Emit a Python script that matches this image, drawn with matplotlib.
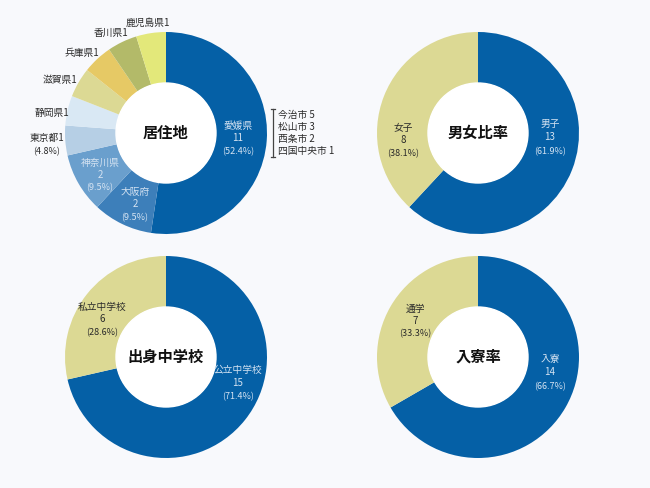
import matplotlib
matplotlib.use("Agg")
import matplotlib.pyplot as plt

plt.rcParams["font.family"] = ["Noto Sans CJK JP", "DejaVu Sans"]

BG = "#f8f9fc"
BLUE = "#0560a6"
BEIGE = "#dcd994"
LIGHT_TXT = "#d5e3f2"
DARK_TXT = "#2a2a2a"

# 居住地
res_names = ["愛媛県", "大阪府", "神奈川県", "東京都", "静岡県", "滋賀県", "兵庫県", "香川県", "鹿児島県"]
res_vals = [11, 2, 2, 1, 1, 1, 1, 1, 1]
res_colors = [BLUE, "#3d7fba", "#6a9fcd", "#b6cfe5", "#d9e8f4", "#dcd994", "#e6c965", "#b3ba69", "#e3e87a"]
ehime_cities = ["今治市 5", "松山市 3", "西条市 2", "四国中央市 1"]

# 男女比率
sex_names = ["男子", "女子"]
sex_vals = [13, 8]

# 出身中学校
school_names = ["公立中学校", "私立中学校"]
school_vals = [15, 6]

# 入寮率
dorm_names = ["入寮", "通学"]
dorm_vals = [14, 7]

W, H = 650, 488
fig = plt.figure(figsize=(W / 100, H / 100), dpi=100)
fig.patch.set_facecolor(BG)
ax = fig.add_axes([0, 0, 1, 1])
ax.set_xlim(0, W)
ax.set_ylim(0, H)
ax.set_aspect("equal")
ax.axis("off")


def Y(py):
    return H - py


def donut(cx, cy, vals, colors, title):
    ax.pie(vals, colors=colors, center=(cx, Y(cy)), radius=101, startangle=90,
           counterclock=False, wedgeprops=dict(width=51, linewidth=0))
    ax.add_patch(plt.Circle((cx, Y(cy)), 50, color="white", zorder=3))
    ax.text(cx, Y(cy), title, ha="center", va="center", fontsize=11,
            fontweight="bold", color="#111111", zorder=4)
    ax.set_xlim(0, W)
    ax.set_ylim(0, H)
    ax.set_aspect("equal")


def label3(x, y, name, val, total, color, dy=12):
    pct = val / total * 100
    ax.text(x, Y(y), name, ha="center", va="center", fontsize=7, color=color, zorder=5)
    ax.text(x, Y(y + dy), str(val), ha="center", va="center", fontsize=7, color=color, zorder=5)
    ax.text(x, Y(y + 2 * dy + 2), f"({pct:.1f}%)", ha="center", va="center", fontsize=6.5,
            color=color, zorder=5)


# chart 1
donut(166, 133, res_vals, res_colors, "居住地")
tot = sum(res_vals)
label3(238, 126, res_names[0], res_vals[0], tot, LIGHT_TXT, dy=12)
label3(135, 192, res_names[1], res_vals[1], tot, LIGHT_TXT, dy=12)
label3(100, 163, res_names[2], res_vals[2], tot, LIGHT_TXT, dy=11.5)
ax.text(47, Y(138), f"{res_names[3]}{res_vals[3]}", ha="center", va="center", fontsize=7, color=DARK_TXT)
ax.text(47, Y(152), f"({res_vals[3] / tot * 100:.1f}%)", ha="center", va="center", fontsize=6.5, color=DARK_TXT)
outer = [(52, 113), (60, 80), (82, 53), (111, 33), (148, 23)]
for (x, y), n, v in zip(outer, res_names[4:], res_vals[4:]):
    ax.text(x, Y(y), f"{n}{v}", ha="center", va="center", fontsize=7, color=DARK_TXT)

# bracket and Ehime city list
ax.plot([273, 273], [Y(109), Y(157)], color="#444444", lw=0.9)
ax.plot([271, 275], [Y(109), Y(109)], color="#444444", lw=0.9)
ax.plot([271, 275], [Y(157), Y(157)], color="#444444", lw=0.9)
for i, c in enumerate(ehime_cities):
    ax.text(278, Y(115 + i * 12), c, ha="left", va="center", fontsize=7, color=DARK_TXT)

# chart 2
donut(478, 133, sex_vals, [BLUE, BEIGE], "男女比率")
label3(550, 124, sex_names[0], sex_vals[0], sum(sex_vals), LIGHT_TXT, dy=13)
label3(403, 128, sex_names[1], sex_vals[1], sum(sex_vals), DARK_TXT, dy=12)

# chart 3
donut(166, 357, school_vals, [BLUE, BEIGE], "出身中学校")
label3(238, 370, school_names[0], school_vals[0], sum(school_vals), LIGHT_TXT, dy=12.5)
label3(102, 307, school_names[1], school_vals[1], sum(school_vals), DARK_TXT, dy=12)

# chart 4
donut(478, 357, dorm_vals, [BLUE, BEIGE], "入寮率")
label3(550, 359, dorm_names[0], dorm_vals[0], sum(dorm_vals), LIGHT_TXT, dy=13)
label3(415, 309, dorm_names[1], dorm_vals[1], sum(dorm_vals), DARK_TXT, dy=11.5)

fig.savefig("out.png", dpi=100, facecolor=BG)
